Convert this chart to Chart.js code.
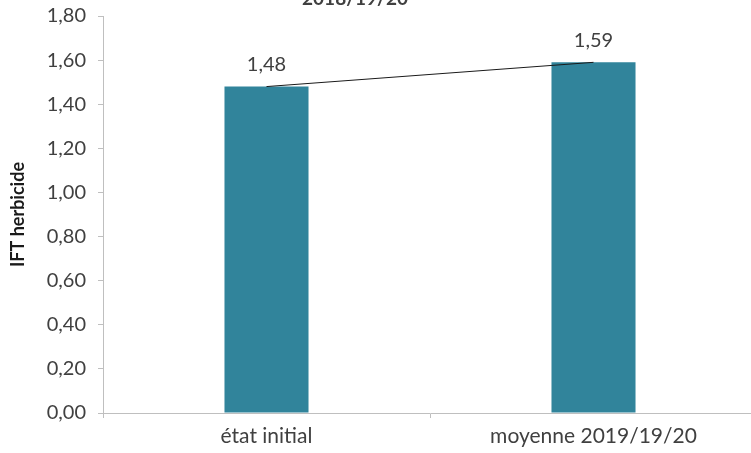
<!DOCTYPE html>
<html>
<head>
<meta charset="utf-8">
<script src="https://cdn.jsdelivr.net/npm/chart.js@4/dist/chart.umd.min.js"></script>
<style>
  html, body { margin: 0; padding: 0; background: #fff; overflow: hidden; }
  #wrap { width: 760px; height: 453px; }
</style>
</head>
<body>
<div id="wrap"><canvas id="iftChart" width="760" height="453"></canvas></div>
<script>
// IFT herbicide values per period
var categories = ['état initial', 'moyenne 2019/19/20'];
var iftValues = [1.48, 1.59];
var yTicks = [0, 0.2, 0.4, 0.6, 0.8, 1.0, 1.2, 1.4, 1.6, 1.8];
var titleText = '2018/19/20';

var fontFamily = 'Lato, "Open Sans", sans-serif';
var textColor = '#404040';
var axisColor = '#bfbfbf';

function frNum(v) {
    return v.toFixed(2).replace('.', ',');
}

// Title sits partly above the top edge of the canvas
var titlePlugin = {
    id: 'clippedTitle',
    afterDraw: function(chart) {
        var ctx = chart.ctx;
        ctx.save();
        ctx.font = 'bold 19px ' + fontFamily;
        ctx.fillStyle = textColor;
        ctx.textAlign = 'center';
        ctx.textBaseline = 'alphabetic';
        ctx.fillText(titleText, 355, 5);
        ctx.restore();
    }
};

// Value labels above the line points
var valueLabels = {
    id: 'valueLabels',
    afterDatasetsDraw: function(chart) {
        var ctx = chart.ctx;
        var meta = chart.getDatasetMeta(1);
        ctx.save();
        ctx.font = '20px ' + fontFamily;
        ctx.fillStyle = textColor;
        ctx.textAlign = 'center';
        ctx.textBaseline = 'middle';
        meta.data.forEach(function(pt, i) {
            ctx.fillText(frNum(iftValues[i]), pt.x, pt.y - 22);
        });
        ctx.restore();
    }
};

var ctx = document.getElementById('iftChart').getContext('2d');
var iftChart = new Chart(ctx, {
    type: 'bar',
    data: {
        labels: categories,
        datasets: [{
            type: 'bar',
            data: iftValues,
            backgroundColor: '#31849b',
            barPercentage: 0.257,
            categoryPercentage: 1,
            order: 2
        }, {
            type: 'line',
            data: iftValues,
            borderColor: '#1a1a1a',
            borderWidth: 1,
            pointRadius: 0,
            fill: false,
            order: 1
        }]
    },
    options: {
        responsive: false,
        animation: false,
        layout: { padding: { top: 16, right: 3, bottom: 0, left: 0 } },
        plugins: {
            legend: { display: false },
            tooltip: { enabled: false }
        },
        scales: {
            x: {
                offset: true,
                grid: {
                    offset: true,
                    drawOnChartArea: false,
                    color: axisColor,
                    tickLength: 5
                },
                border: { color: axisColor, width: 1 },
                ticks: {
                    color: textColor,
                    font: { family: fontFamily, size: 21 },
                    padding: 6,
                    maxRotation: 0
                },
                afterFit: function(scale) {
                    scale.height = 40;
                    scale.paddingLeft = 0;
                    scale.paddingRight = 0;
                }
            },
            y: {
                min: 0,
                max: 1.8,
                afterBuildTicks: function(scale) {
                    scale.ticks = yTicks.map(function(v) { return { value: v }; });
                },
                grid: {
                    drawOnChartArea: false,
                    color: axisColor,
                    tickLength: 5
                },
                border: { color: axisColor, width: 1 },
                ticks: {
                    color: textColor,
                    font: { family: fontFamily, size: 20 },
                    padding: 12,
                    callback: function(v) { return frNum(v); }
                },
                title: {
                    display: true,
                    text: 'IFT herbicide',
                    color: '#1a1a1a',
                    font: { family: fontFamily, size: 18, weight: 'bold' },
                    padding: { top: 7, bottom: 0 }
                },
                afterFit: function(scale) {
                    scale.width = 103;
                    scale.paddingTop = 0;
                    scale.paddingBottom = 0;
                }
            }
        }
    },
    plugins: [titlePlugin, valueLabels]
});
</script>
</body>
</html>
